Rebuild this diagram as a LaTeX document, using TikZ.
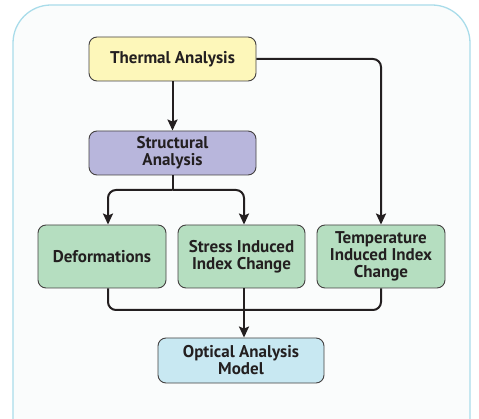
\documentclass[tikz,border=0pt]{standalone}
\usepackage{fontspec}
\setmainfont{PT Sans}
\usepackage{tikz}
\usetikzlibrary{positioning,arrows.meta,calc}

\definecolor{framecol}{HTML}{A9DCEA}
\definecolor{panelcol}{HTML}{FAFCFC}
\definecolor{inkcol}{HTML}{231F20}
\definecolor{thermalcol}{HTML}{FDF7BA}
\definecolor{structcol}{HTML}{B8B6DC}
\definecolor{resultcol}{HTML}{B5DEC0}
\definecolor{opticcol}{HTML}{C8E8F2}

\begin{document}
\begin{tikzpicture}[
  x=1pt, y=1pt,
  box/.style={draw=inkcol!85, line width=0.9pt, rounded corners=8pt, align=center,
    text=inkcol, font=\fontsize{17}{17}\selectfont\bfseries, inner sep=2pt},
  line/.style={draw=inkcol, line width=2pt, rounded corners=8pt},
  conn/.style={line, -{Stealth[length=11pt, width=10pt, inset=2pt]}}
]
\clip (0,0) rectangle (479,-419);
% outer panel (open at the bottom)
\draw[framecol, fill=panelcol, line width=1.3pt, rounded corners=38pt]
  (13,-5) rectangle (470,-470);

% boxes
\node[box, fill=thermalcol, minimum width=167pt, minimum height=44pt] (thermal) at (172.5,-59) {Thermal Analysis};
\node[box, fill=structcol, minimum width=167pt, minimum height=44pt] (struct) at (172.5,-153) {Structural\\Analysis};
\node[box, fill=resultcol, minimum width=128pt, minimum height=63pt] (deform) at (102,-256.5) {Deformations};
\node[box, fill=resultcol, minimum width=127pt, minimum height=63pt] (stress) at (241.5,-256.5) {Stress Induced\\Index Change};
\node[box, fill=resultcol, minimum width=128pt, minimum height=63pt] (temp) at (381,-256.5) {Temperature\\Induced Index\\Change};
\node[box, fill=opticcol, minimum width=166pt, minimum height=45pt] (optical) at (241,-360.5) {Optical Analysis\\Model};

% split and merge points
\coordinate (split) at (172.5,-190);
\coordinate (merge) at (244,-310);

% connectors
\draw[conn] (thermal) -- (struct);
\draw[conn] (thermal.east) -| (temp.north);
\draw[line] (struct.south) -- (split);
\draw[conn] (split) -| ([xshift=6pt]deform.north);
\draw[conn] (split) -| ([xshift=2.5pt]stress.north);
\draw[line] ([xshift=6pt]deform.south) |- (merge);
\draw[line] (temp.south) |- (merge);
\draw[conn] ([xshift=2.5pt]stress.south) -- ([xshift=3pt]optical.north);
\end{tikzpicture}
\end{document}
